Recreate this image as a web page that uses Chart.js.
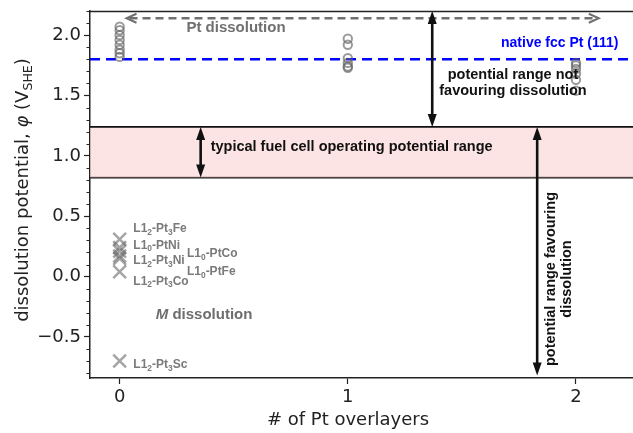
<!DOCTYPE html>
<html>
<head>
<meta charset="utf-8">
<script src="https://cdn.jsdelivr.net/npm/chart.js@4.4.0/dist/chart.umd.min.js"></script>
<style>
  body { margin: 0; background: #fff; }
  #wrap { width: 633px; height: 433px; }
</style>
</head>
<body>
<div id="wrap"><canvas id="chart" width="633" height="433"></canvas></div>
<script>
// axis ranges
const xMin = -0.13, xMax = 2.25;
const yMin = -0.84, yMax = 2.2;
const xTicks = [0, 1, 2];

// dissolution potentials of Pt atoms, by number of Pt overlayers
const ptOverlayers0 = [2.07, 2.04, 2.00, 1.96, 1.92, 1.88, 1.85, 1.82];
const ptOverlayers1 = [1.97, 1.92, 1.81, 1.77, 1.74, 1.73];
const ptOverlayers2 = [1.77, 1.75, 1.72, 1.68, 1.63, 1.54];

// solute (M) dissolution potentials, bare alloy surface
const alloys   = ['L1_2-Pt_3Fe', 'L1_0-PtNi', 'L1_0-PtCo', 'L1_2-Pt_3Ni', 'L1_0-PtFe', 'L1_2-Pt_3Co', 'L1_2-Pt_3Sc'];
const alloyPhi = [0.31, 0.24, 0.21, 0.17, 0.15, 0.04, -0.70];

// reference levels
const nativePt111 = 1.80;
const fuelCellLow = 0.82, fuelCellHigh = 1.24;

const circleData = []
  .concat(ptOverlayers0.map(v => ({x: 0, y: v})))
  .concat(ptOverlayers1.map(v => ({x: 1, y: v})))
  .concat(ptOverlayers2.map(v => ({x: 2, y: v})));
const crossData = alloyPhi.map(v => ({x: 0, y: v}));
const hline = v => [{x: xMin, y: v}, {x: xMax, y: v}];

const SANS = '"Liberation Sans", Arial, sans-serif';
const DJV = '"DejaVu Sans", sans-serif';

// draws text made of parts: [str, ''|'sub'|'it']
function rich(ctx, parts, x, y, size, align, color, family, weight) {
    const fontOf = (t, s) => (t === 'it' ? 'italic ' : '') + (weight || 'normal') + ' ' + s + 'px ' + family;
    let w = 0;
    parts.forEach(p => {
        const s = p[1] === 'sub' ? size * 0.7 : size;
        ctx.font = fontOf(p[1], s);
        w += ctx.measureText(p[0]).width;
    });
    let cx = align === 'center' ? x - w / 2 : (align === 'right' ? x - w : x);
    ctx.fillStyle = color;
    ctx.textAlign = 'left';
    ctx.textBaseline = 'middle';
    parts.forEach(p => {
        const s = p[1] === 'sub' ? size * 0.7 : size;
        ctx.font = fontOf(p[1], s);
        ctx.fillText(p[0], cx, y + (p[1] === 'sub' ? size * 0.3 : 0));
        cx += ctx.measureText(p[0]).width;
    });
}

function alloyParts(name) {
    // 'L1_2-Pt_3Fe' -> parts with subscripts
    const parts = [];
    name.split(/(_\d)/).forEach(s => {
        if (!s) return;
        if (s[0] === '_') parts.push([s.slice(1), 'sub']);
        else parts.push([s, '']);
    });
    return parts;
}

function head(ctx, tx, ty, ang, len, hw) {
    ctx.beginPath();
    ctx.moveTo(tx, ty);
    ctx.lineTo(tx - len * Math.cos(ang) + hw * Math.sin(ang), ty - len * Math.sin(ang) - hw * Math.cos(ang));
    ctx.lineTo(tx - len * Math.cos(ang) - hw * Math.sin(ang), ty - len * Math.sin(ang) + hw * Math.cos(ang));
    ctx.closePath();
    ctx.fill();
}

function dblArrow(ctx, x1, y1, x2, y2, color, lw, len, hw) {
    const ang = Math.atan2(y2 - y1, x2 - x1);
    ctx.strokeStyle = color;
    ctx.fillStyle = color;
    ctx.lineWidth = lw;
    ctx.setLineDash([]);
    ctx.beginPath();
    ctx.moveTo(x1 + len * 0.8 * Math.cos(ang), y1 + len * 0.8 * Math.sin(ang));
    ctx.lineTo(x2 - len * 0.8 * Math.cos(ang), y2 - len * 0.8 * Math.sin(ang));
    ctx.stroke();
    head(ctx, x2, y2, ang, len, hw);
    head(ctx, x1, y1, ang + Math.PI, len, hw);
}

const annotations = {
    id: 'annotations',
    afterDatasetsDraw(chart) {
        const {ctx, chartArea: a, scales: {x, y}} = chart;
        const X = v => x.getPixelForValue(v);
        const Y = v => y.getPixelForValue(v);
        ctx.save();

        // top spine
        ctx.strokeStyle = '#222';
        ctx.lineWidth = 1.5;
        ctx.beginPath();
        ctx.moveTo(a.left, a.top + 0.5);
        ctx.lineTo(a.right, a.top + 0.5);
        ctx.stroke();

        // minor y ticks
        ctx.lineWidth = 1;
        for (let k = -8; k <= 22; k++) {
            if (k % 5 === 0) continue;
            const py = Math.round(Y(k / 10)) + 0.5;
            ctx.beginPath();
            ctx.moveTo(a.left - 3.5, py);
            ctx.lineTo(a.left, py);
            ctx.stroke();
        }

        // Pt dissolution dashed arrow
        const gy = Y(2.14);
        ctx.strokeStyle = '#707070';
        ctx.lineWidth = 2.5;
        ctx.setLineDash([8, 5]);
        ctx.beginPath();
        ctx.moveTo(X(0.03) + 3, gy);
        ctx.lineTo(X(2.1) - 3, gy);
        ctx.stroke();
        ctx.setLineDash([]);
        ctx.lineWidth = 2;
        [[X(0.03), 1], [X(2.1), -1]].forEach(([tx, d]) => {
            ctx.beginPath();
            ctx.moveTo(tx + d * 10, gy - 4.5);
            ctx.lineTo(tx, gy);
            ctx.lineTo(tx + d * 10, gy + 4.5);
            ctx.stroke();
        });
        rich(ctx, [['Pt dissolution', '']], 236, Y(2.06), 15, 'center', '#707070', SANS, 'bold');

        // black range arrows
        dblArrow(ctx, X(1.37), Y(yMax), X(1.37), Y(fuelCellHigh), '#111', 2.6, 13, 4.5);
        dblArrow(ctx, X(0.355), Y(fuelCellHigh), X(0.355), Y(fuelCellLow), '#111', 2.6, 13, 4.5);
        dblArrow(ctx, X(1.83), Y(fuelCellHigh), X(1.83), Y(-0.82), '#111', 2.6, 13, 4.5);

        // texts
        rich(ctx, [['native fcc Pt (111)', '']], 501, Y(1.93), 14, 'left', '#0000ff', SANS, 'bold');
        rich(ctx, [['potential range not', '']], 513, Y(1.67), 14.5, 'center', '#111', SANS, 'bold');
        rich(ctx, [['favouring dissolution', '']], 513, Y(1.54), 14.5, 'center', '#111', SANS, 'bold');
        rich(ctx, [['typical fuel cell operating potential range', '']], X(0.355) + 10, Y(1.075), 14.5, 'left', '#111', SANS, 'bold');
        rich(ctx, [['M', 'it'], [' dissolution', '']], X(0.37), Y(-0.32), 15, 'center', '#6e6e6e', SANS, 'bold');

        // rotated text
        ctx.save();
        ctx.translate(X(1.83) + 14, Y(-0.02));
        ctx.rotate(-Math.PI / 2);
        rich(ctx, [['potential range favouring', '']], 0, 0, 14.5, 'center', '#111', SANS, 'bold');
        rich(ctx, [['dissolution', '']], 0, 15.5, 14.5, 'center', '#111', SANS, 'bold');
        ctx.restore();

        // alloy labels
        const labelPos = [[0.06, 0.395], [0.06, 0.26], [0.295, 0.19], [0.06, 0.13], [0.295, 0.04], [0.06, -0.04], [0.06, -0.73]];
        alloys.forEach((n, i) => {
            rich(ctx, alloyParts(n), X(labelPos[i][0]), Y(labelPos[i][1]), 12, 'left', '#7a7a7a', SANS, 'bold');
        });

        ctx.restore();
    },
    afterDraw(chart) {
        const {ctx} = chart;
        ctx.save();
        rich(ctx, [['# of Pt overlayers', '']], 348, 420, 18, 'center', '#222', DJV);
        ctx.translate(23, 190);
        ctx.rotate(-Math.PI / 2);
        rich(ctx, [['dissolution potential, ', ''], ['\u03c6', 'it'], [' (V', ''], ['SHE', 'sub'], [')', '']], 0, 0, 18, 'center', '#222', DJV);
        ctx.restore();
    }
};

new Chart(document.getElementById('chart'), {
    type: 'scatter',
    data: {
        datasets: [
            {
                label: 'alloys',
                data: crossData,
                pointStyle: 'crossRot',
                pointRadius: 9,
                borderWidth: 2.5,
                borderColor: 'rgba(105,105,105,0.6)',
                backgroundColor: 'rgba(105,105,105,0.6)'
            },
            {
                label: 'Pt',
                data: circleData,
                pointStyle: 'circle',
                pointRadius: 4.2,
                borderWidth: 2,
                borderColor: 'rgba(100,100,100,0.65)',
                backgroundColor: 'rgba(0,0,0,0)'
            },
            {
                type: 'line',
                label: 'native',
                data: hline(nativePt111),
                borderColor: '#0000ff',
                borderWidth: 2.5,
                borderDash: [10, 6],
                pointRadius: 0,
                fill: false
            },
            {
                type: 'line',
                label: 'fcHigh',
                data: hline(fuelCellHigh),
                borderColor: '#111',
                borderWidth: 1.8,
                pointRadius: 0,
                fill: '+1',
                backgroundColor: 'rgba(250,205,205,0.55)'
            },
            {
                type: 'line',
                label: 'fcLow',
                data: hline(fuelCellLow),
                borderColor: '#111',
                borderWidth: 1.8,
                pointRadius: 0,
                fill: false
            }
        ]
    },
    options: {
        responsive: false,
        animation: false,
        layout: { autoPadding: false, padding: { top: 11, right: 0, left: 0, bottom: 0 } },
        plugins: { legend: { display: false }, tooltip: { enabled: false } },
        scales: {
            x: {
                type: 'linear',
                min: xMin,
                max: xMax,
                afterFit: s => { s.height = 55; s.paddingLeft = 0; s.paddingRight = 0; },
                afterBuildTicks: s => { s.ticks = xTicks.map(v => ({value: v})); },
                ticks: { font: { family: DJV, size: 18 }, color: '#222', padding: 3 },
                grid: { drawOnChartArea: false, tickLength: 6, color: '#222', tickWidth: 1.2 },
                border: { color: '#222', width: 1.5 }
            },
            y: {
                min: yMin,
                max: yMax,
                afterFit: s => { s.width = 90; s.paddingTop = 0; s.paddingBottom = 0; },
                ticks: { stepSize: 0.5, includeBounds: false, font: { family: DJV, size: 18 }, color: '#222', padding: 3,
                         callback: v => (v < 0 ? '\u2212' + Math.abs(v).toFixed(1) : v.toFixed(1)) },
                grid: { drawOnChartArea: false, tickLength: 6, color: '#222', tickWidth: 1.2 },
                border: { color: '#222', width: 1.5 }
            }
        }
    },
    plugins: [annotations]
});
</script>
</body>
</html>
